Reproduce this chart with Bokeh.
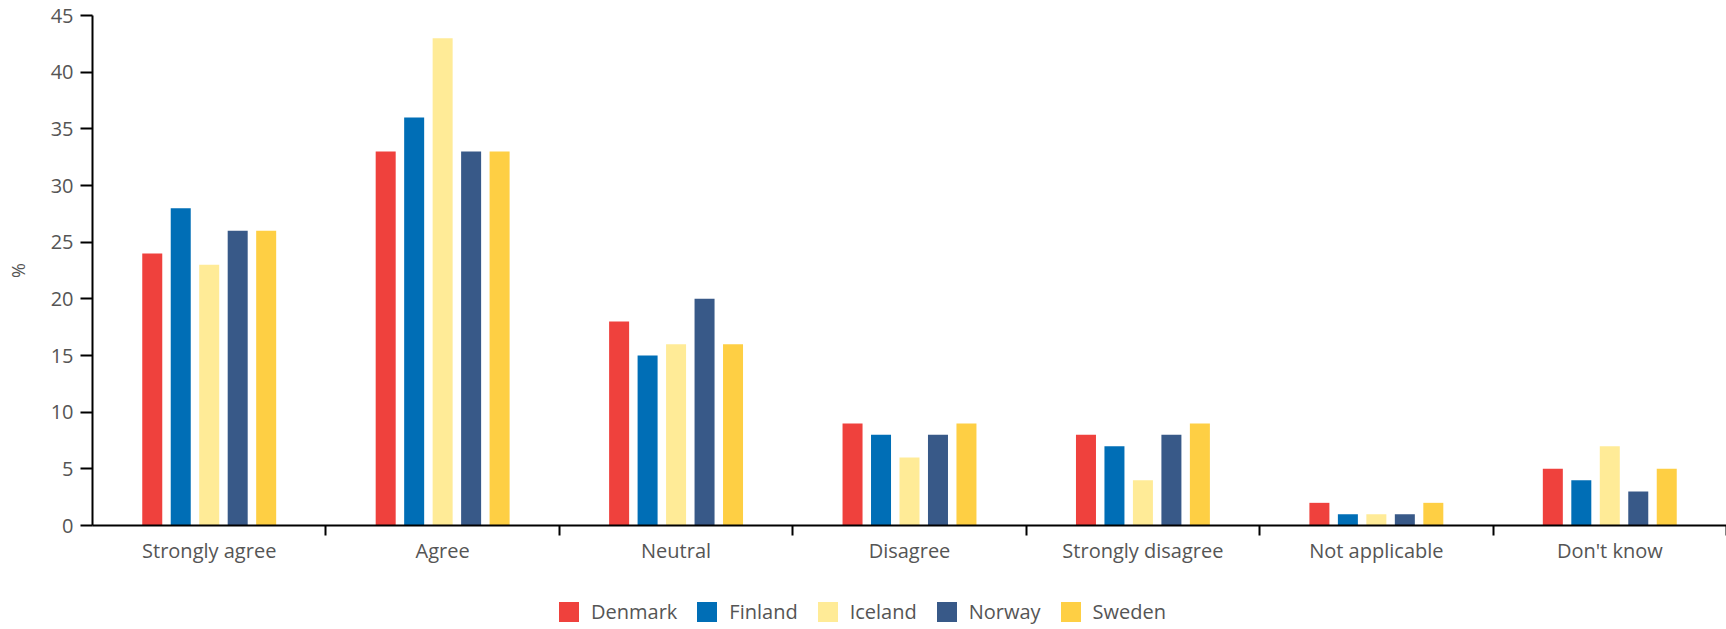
from bokeh.plotting import figure
from bokeh.layouts import column
from bokeh.models import (FixedTicker, Legend, LegendItem, Range1d, ColumnDataSource)
from bokeh.embed import file_html
from bokeh.resources import INLINE
import numpy as np

categories = ["Strongly agree", "Agree", "Neutral", "Disagree",
              "Strongly disagree", "Not applicable", "Don't know"]
countries = ["Denmark", "Finland", "Iceland", "Norway", "Sweden"]
denmark = [24, 33, 18, 9, 8, 2, 5]
finland = [28, 36, 15, 8, 7, 1, 4]
iceland = [23, 43, 16, 6, 4, 1, 7]
norway = [26, 33, 20, 8, 8, 1, 3]
sweden = [26, 33, 16, 9, 9, 2, 5]
series = [denmark, finland, iceland, norway, sweden]
colors = ["#EF413D", "#006EB6", "#FFEB97", "#385988", "#FECF44"]
y_ticks = list(range(0, 50, 5))

FONT = "Open Sans"
TXT = "#555555"

p = figure(width=1726, height=580, output_backend="svg",
           toolbar_location=None,
           x_range=Range1d(0, 7), y_range=Range1d(0, 45),
           min_border_left=92, min_border_right=0, min_border_top=15,
           min_border_bottom=55)
p.outline_line_color = None
p.grid.visible = False
p.background_fill_color = "white"

centers = np.arange(len(categories)) + 0.5
offsets = [-0.244, -0.122, 0.0, 0.122, 0.244]
sources = []
for name, vals, col, off in zip(countries, series, colors, offsets):
    src = ColumnDataSource(dict(x=centers + off, top=vals))
    sources.append(src)
    p.vbar(x="x", top="top", width=0.0857, source=src, fill_color=col,
           line_color=None)

# x axis
xa = p.xaxis[0]
xa.ticker = FixedTicker(ticks=list(centers), minor_ticks=list(range(1, 8)))
xa.major_label_overrides = {float(c): cat for c, cat in zip(centers, categories)}
xa.major_tick_line_color = None
xa.major_tick_out = 0
xa.major_tick_in = 0
xa.minor_tick_line_color = "black"
xa.minor_tick_line_width = 2
xa.minor_tick_out = 10
xa.minor_tick_in = 0
xa.axis_line_color = "black"
xa.axis_line_width = 2
xa.major_label_text_font = FONT
xa.major_label_text_font_size = "20px"
xa.major_label_text_color = TXT
xa.major_label_standoff = 1

# y axis
ya = p.yaxis[0]
ya.ticker = FixedTicker(ticks=y_ticks)
ya.minor_tick_line_color = None
ya.major_tick_line_color = "black"
ya.major_tick_line_width = 2
ya.major_tick_out = 12
ya.major_tick_in = 0
ya.axis_line_color = "black"
ya.axis_line_width = 2
ya.major_label_text_font = FONT
ya.major_label_text_font_size = "20px"
ya.major_label_text_color = TXT
ya.major_label_standoff = 7
ya.axis_label = "%"
ya.axis_label_text_font = FONT
ya.axis_label_text_font_size = "18px"
ya.axis_label_text_font_style = "normal"
ya.axis_label_text_color = TXT
ya.axis_label_standoff = 18

# legend strip (its renderers share the bar data but lie outside its view)
lf = figure(width=1726, height=49, output_backend="svg", toolbar_location=None,
            x_range=Range1d(-20, -19), y_range=Range1d(-20, -19),
            min_border_left=0, min_border_right=0, min_border_top=0,
            min_border_bottom=0)
lf.axis.visible = False
lf.grid.visible = False
lf.outline_line_color = None
items = []
for name, col, src in zip(countries, colors, sources):
    r = lf.vbar(x="x", top="top", width=0.0857, source=src, fill_color=col,
                line_color=None)
    items.append(LegendItem(label=name, renderers=[r]))
legend = Legend(items=items, orientation="horizontal", location=(464, 4),
                glyph_width=25, glyph_height=25, label_standoff=10, spacing=17,
                label_text_font=FONT, label_text_font_size="20px",
                label_text_color=TXT, border_line_color=None,
                background_fill_alpha=0, padding=0, margin=0)
lf.add_layout(legend, "center")

layout = column(p, lf, spacing=0)
open("out.html", "w").write(file_html(layout, INLINE))
